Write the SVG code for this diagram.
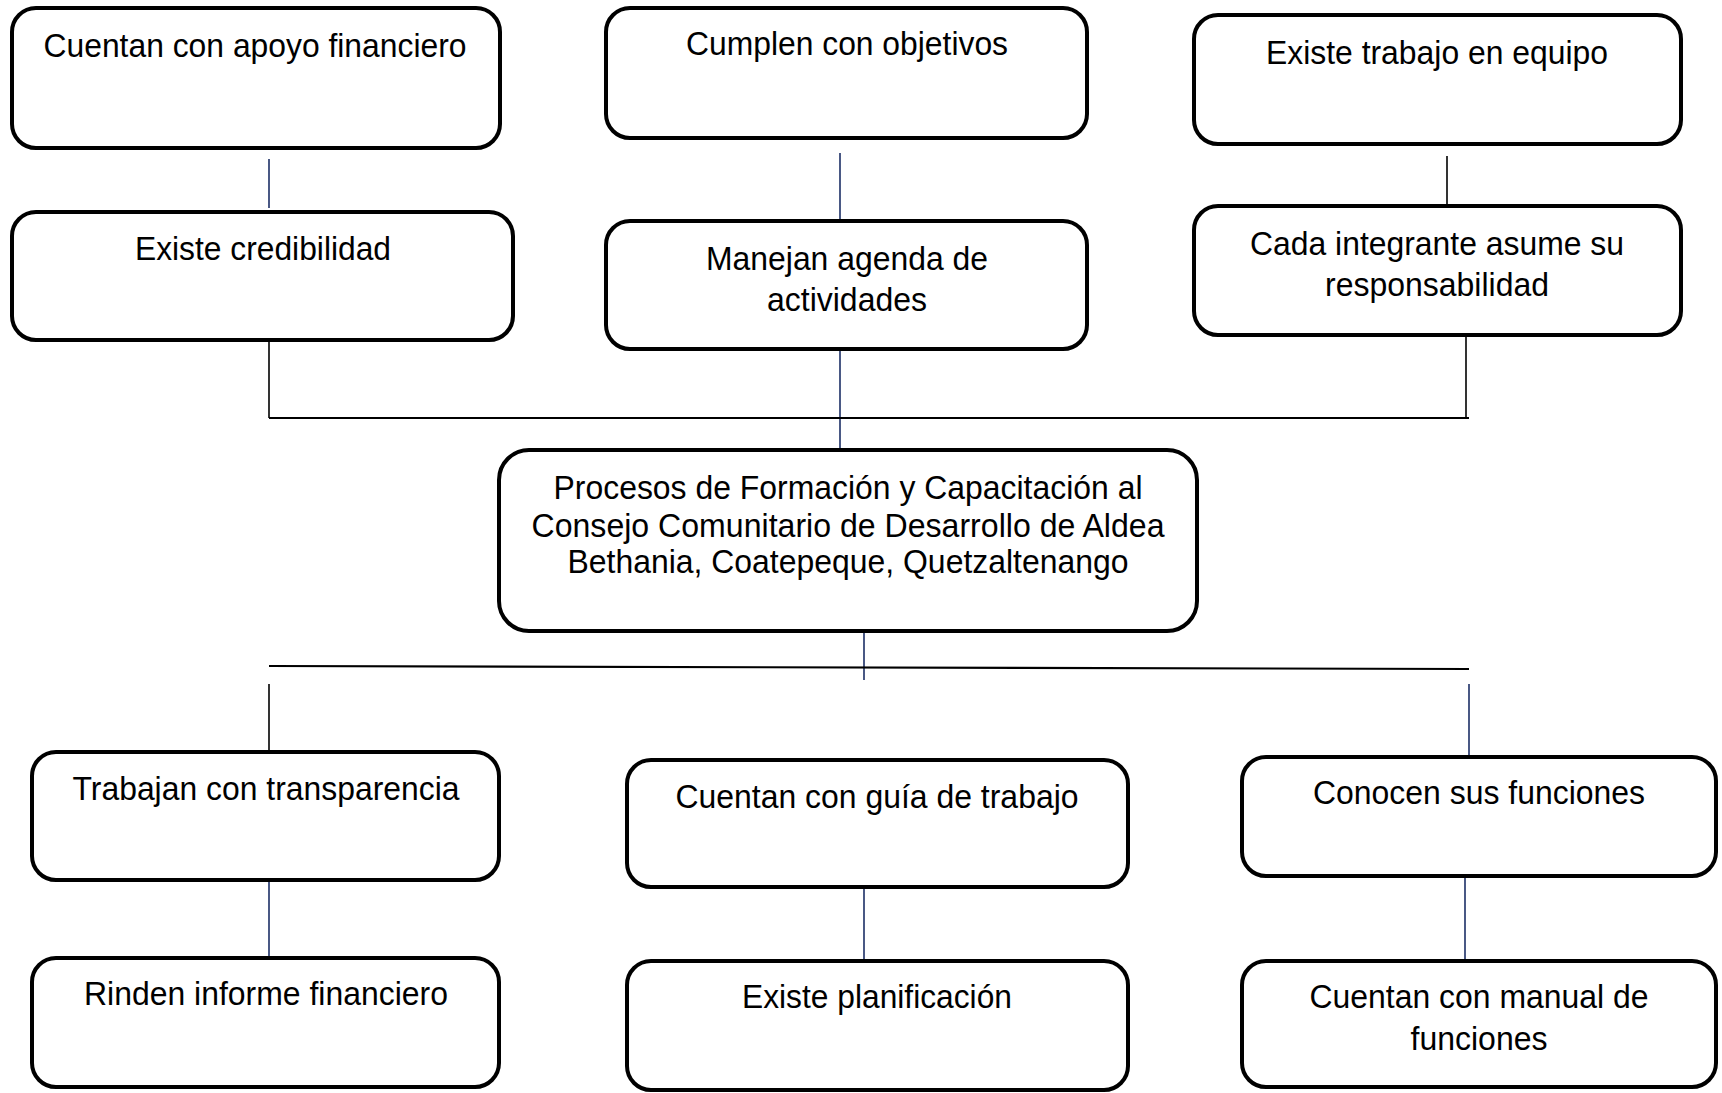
<svg xmlns="http://www.w3.org/2000/svg" width="1722" height="1093" viewBox="0 0 1722 1093">
<style>
.box{fill:#fff;stroke:#000;stroke-width:4}
.t{font-family:"Liberation Sans",Arial,sans-serif;font-size:33px;fill:#000;text-anchor:middle}
.n{stroke:#1c2f66;stroke-width:1.6;fill:none}
.k{stroke:#000;stroke-width:1.6;fill:none}
.h{stroke:#000;stroke-width:2.2;fill:none}
</style>
<rect width="1722" height="1093" fill="#fff"/>
<g id="connectors">
<line class="n" x1="269" y1="159" x2="269" y2="208"/>
<line class="n" x1="840" y1="153" x2="840" y2="221"/>
<line class="k" x1="1447" y1="156" x2="1447" y2="212"/>
<line class="k" x1="269" y1="340" x2="269" y2="418"/>
<line class="n" x1="840" y1="349" x2="840" y2="450"/>
<line class="k" x1="1466" y1="332" x2="1466" y2="418"/>
<line class="h" x1="269" y1="418" x2="1469" y2="418"/>
<line class="n" x1="864" y1="631" x2="864" y2="680"/>
<line class="h" x1="269" y1="666" x2="1469" y2="669"/>
<line class="k" x1="269" y1="684" x2="269" y2="752"/>
<line class="n" x1="1469" y1="684" x2="1469" y2="772"/>
<line class="n" x1="269" y1="880" x2="269" y2="958"/>
<line class="n" x1="864" y1="887" x2="864" y2="972"/>
<line class="n" x1="1465" y1="868" x2="1465" y2="961"/>
</g>
<g id="n1"><rect class="box" x="12" y="8" width="488" height="140" rx="24"/><text class="t" x="255" y="57" textLength="423" lengthAdjust="spacingAndGlyphs">Cuentan con apoyo financiero</text></g>
<g id="n2"><rect class="box" x="606" y="8" width="481" height="130" rx="24"/><text class="t" x="847" y="55" textLength="322" lengthAdjust="spacingAndGlyphs">Cumplen con objetivos</text></g>
<g id="n3"><rect class="box" x="1194" y="15" width="487" height="129" rx="24"/><text class="t" x="1437" y="64" textLength="342" lengthAdjust="spacingAndGlyphs">Existe trabajo en equipo</text></g>
<g id="n4"><rect class="box" x="12" y="212" width="501" height="128" rx="24"/><text class="t" x="263" y="260" textLength="256" lengthAdjust="spacingAndGlyphs">Existe credibilidad</text></g>
<g id="n5"><rect class="box" x="606" y="221" width="481" height="128" rx="24"/><text class="t" x="847" y="270" textLength="282" lengthAdjust="spacingAndGlyphs">Manejan agenda de</text><text class="t" x="847" y="311" textLength="160" lengthAdjust="spacingAndGlyphs">actividades</text></g>
<g id="n6"><rect class="box" x="1194" y="206" width="487" height="129" rx="24"/><text class="t" x="1437" y="255" textLength="374" lengthAdjust="spacingAndGlyphs">Cada integrante asume su</text><text class="t" x="1437" y="296" textLength="224" lengthAdjust="spacingAndGlyphs">responsabilidad</text></g>
<g id="center"><rect class="box" x="499" y="450" width="698" height="181" rx="30"/><text class="t" x="848" y="499" textLength="589" lengthAdjust="spacingAndGlyphs">Procesos de Formación y Capacitación al</text><text class="t" x="848" y="537" textLength="633" lengthAdjust="spacingAndGlyphs">Consejo Comunitario de Desarrollo de Aldea</text><text class="t" x="848" y="573" textLength="561" lengthAdjust="spacingAndGlyphs">Bethania, Coatepeque, Quetzaltenango</text></g>
<g id="n7"><rect class="box" x="32" y="752" width="467" height="128" rx="24"/><text class="t" x="266" y="800" textLength="387" lengthAdjust="spacingAndGlyphs">Trabajan con transparencia</text></g>
<g id="n8"><rect class="box" x="627" y="760" width="501" height="127" rx="24"/><text class="t" x="877" y="808" textLength="403" lengthAdjust="spacingAndGlyphs">Cuentan con guía de trabajo</text></g>
<g id="n9"><rect class="box" x="1242" y="757" width="474" height="119" rx="24"/><text class="t" x="1479" y="804" textLength="332" lengthAdjust="spacingAndGlyphs">Conocen sus funciones</text></g>
<g id="n10"><rect class="box" x="32" y="958" width="467" height="129" rx="24"/><text class="t" x="266" y="1005" textLength="364" lengthAdjust="spacingAndGlyphs">Rinden informe financiero</text></g>
<g id="n11"><rect class="box" x="627" y="961" width="501" height="129" rx="24"/><text class="t" x="877" y="1008" textLength="270" lengthAdjust="spacingAndGlyphs">Existe planificación</text></g>
<g id="n12"><rect class="box" x="1242" y="961" width="474" height="126" rx="24"/><text class="t" x="1479" y="1008" textLength="339" lengthAdjust="spacingAndGlyphs">Cuentan con manual de</text><text class="t" x="1479" y="1050" textLength="137" lengthAdjust="spacingAndGlyphs">funciones</text></g>
</svg>
